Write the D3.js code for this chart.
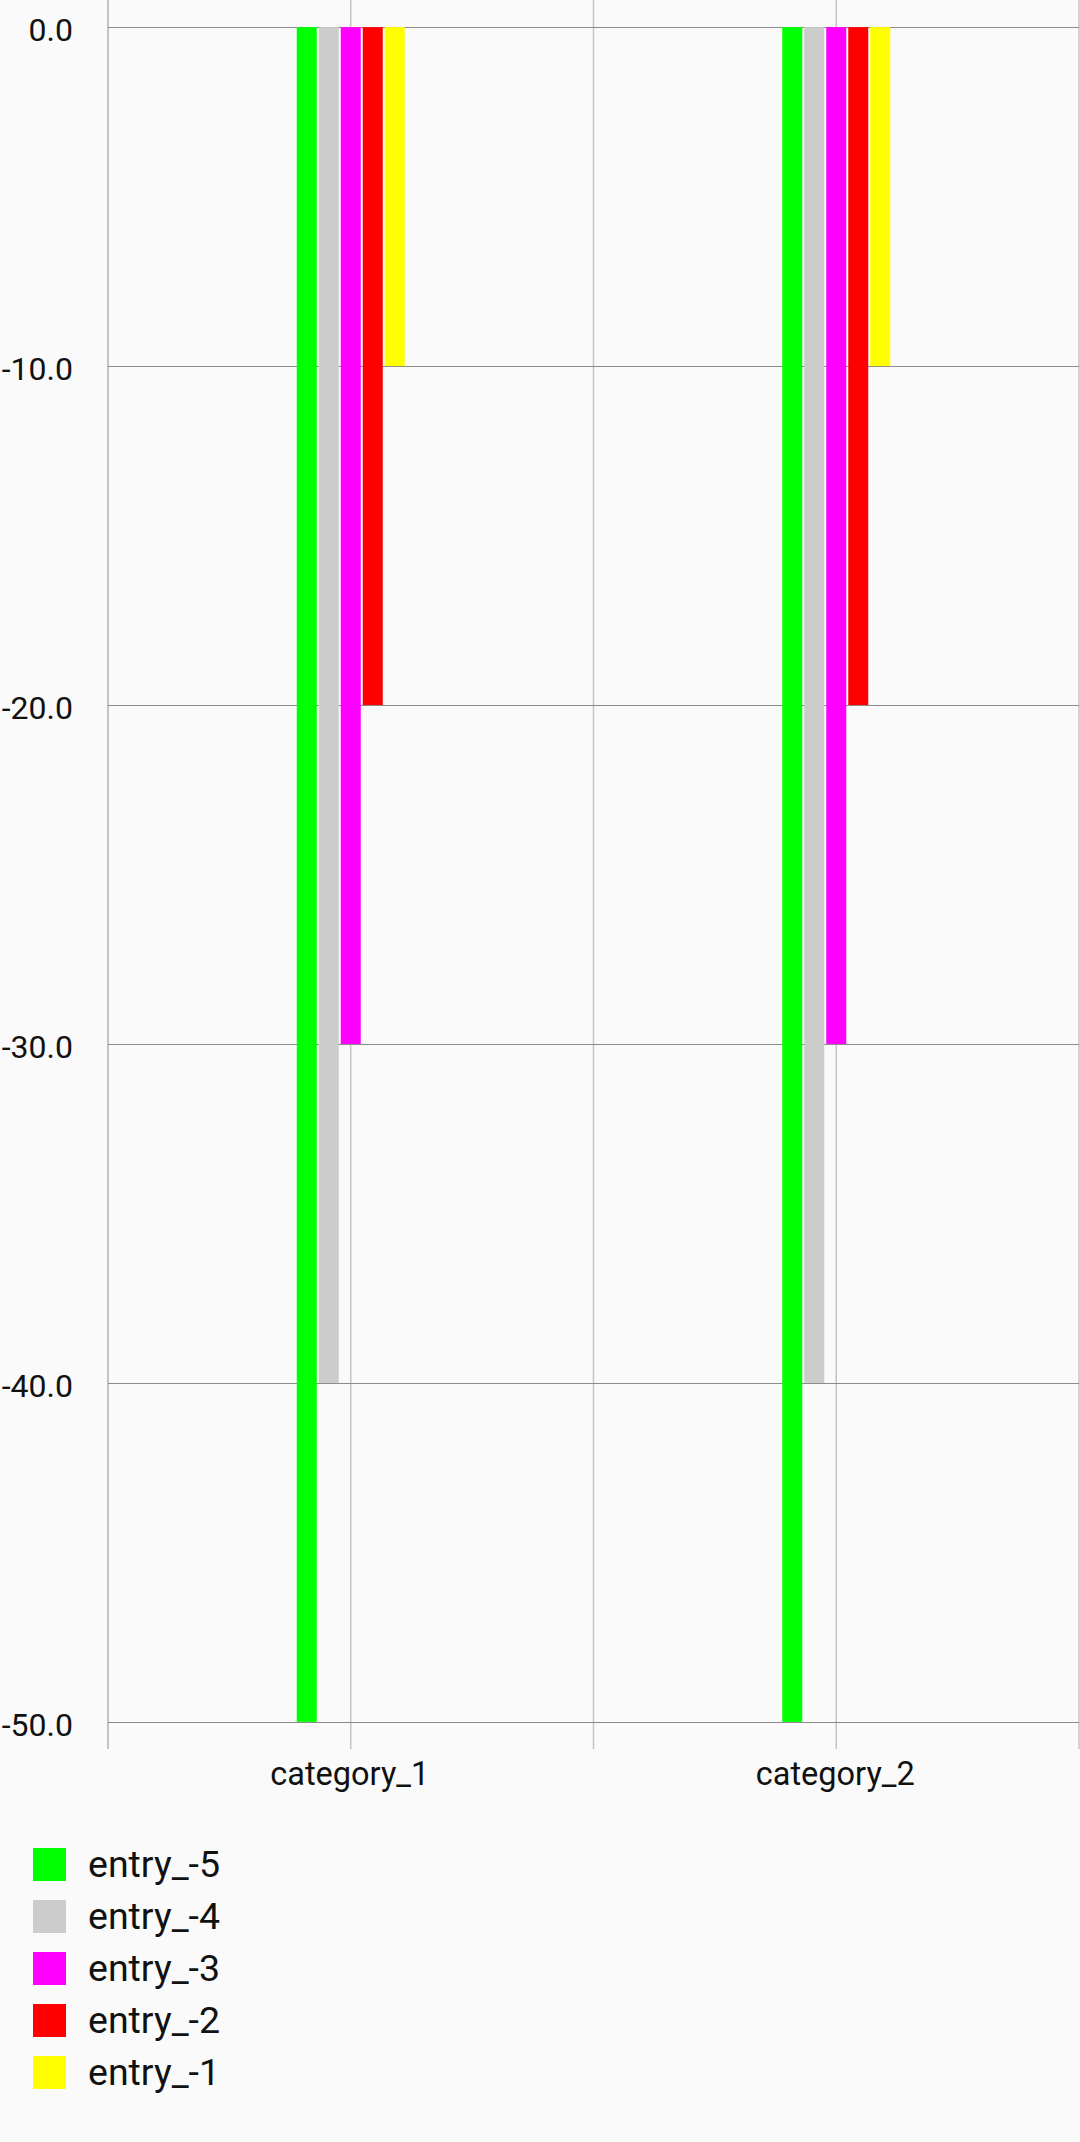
<!DOCTYPE html>
<html>
<head>
<meta charset="utf-8">
<script src="https://cdn.jsdelivr.net/npm/d3@7"></script>
<style>
  html, body { margin: 0; padding: 0; background: #FAFAFA; }
  svg { display: block; }
  text { font-family: Roboto, "Noto Sans", sans-serif; }
</style>
</head>
<body>
<svg id="chart" width="1080" height="2142"></svg>
<script>
const categories = ["category_1", "category_2"];
const seriesNames = ["entry_-5", "entry_-4", "entry_-3", "entry_-2", "entry_-1"];
const seriesColors = ["#00FF00", "#CCCCCC", "#FF00FF", "#FF0000", "#FFFF00"];
const seriesValues = [
  [-50, -50],
  [-40, -40],
  [-30, -30],
  [-20, -20],
  [-10, -10]
];
const yTicks = [0, -10, -20, -30, -40, -50];

const W = 1080, H = 2142;
const plot = { left: 108, right: 1079, top: 0, bottom: 1749 };

const svg = d3.select("#chart");
svg.append("rect").attr("width", W).attr("height", H).attr("fill", "#FAFAFA");

const y = d3.scaleLinear().domain([-50.8, 0.8]).range([plot.bottom, plot.top]);
const x = d3.scaleBand().domain(categories).range([plot.left, plot.right]).padding(0);
const xs = d3.scaleBand().domain(seriesNames).range([-55, 55])
  .paddingInner(2 / 22).paddingOuter(1 / 22);

// vertical grid lines: band boundaries and centers
const vLines = [];
categories.forEach((c, i) => {
  if (i === 0) vLines.push(x(c));
  vLines.push(x(c) + x.bandwidth() / 2);
  vLines.push(x(c) + x.bandwidth());
});
svg.append("g").selectAll("line").data(vLines).join("line")
  .attr("x1", d => d).attr("x2", d => d)
  .attr("y1", plot.top).attr("y2", plot.bottom)
  .attr("stroke", "#C4C4C4")
  .attr("stroke-width", (d, i) => i === 0 ? 2 : 1.5);

// horizontal grid lines
svg.append("g").selectAll("line").data(yTicks).join("line")
  .attr("x1", plot.left).attr("x2", plot.right)
  .attr("y1", d => Math.round(y(d)) + 0.5).attr("y2", d => Math.round(y(d)) + 0.5)
  .attr("stroke", "#8C8C8C").attr("stroke-width", 1);

// bars
const barData = [];
seriesNames.forEach((s, si) => {
  categories.forEach((c, ci) => {
    barData.push({ s, c, v: seriesValues[si][ci], color: seriesColors[si] });
  });
});
svg.append("g").selectAll("rect").data(barData).join("rect")
  .attr("x", d => x(d.c) + x.bandwidth() / 2 + xs(d.s))
  .attr("width", xs.bandwidth())
  .attr("y", d => y(Math.max(0, d.v)))
  .attr("height", d => Math.abs(y(d.v) - y(0)))
  .attr("fill", d => d.color);

// y tick labels
svg.append("g").selectAll("text").data(yTicks).join("text")
  .attr("x", 73).attr("y", d => y(d) + 14)
  .attr("text-anchor", "end")
  .attr("font-size", 32).attr("fill", "#111")
  .text(d => d3.format(".1f")(d).replace("−", "-"));

// x labels
svg.append("g").selectAll("text").data(categories).join("text")
  .attr("x", d => x(d) + x.bandwidth() / 2 - 1)
  .attr("y", 1785)
  .attr("text-anchor", "middle")
  .attr("font-size", 32.5).attr("fill", "#111")
  .text(d => d);

// legend
const lg = svg.append("g").selectAll("g").data(seriesNames).join("g")
  .attr("transform", (d, i) => `translate(0, ${i * 52})`);
lg.append("rect").attr("x", 33).attr("y", 1848).attr("width", 33).attr("height", 33)
  .attr("fill", (d, i) => seriesColors[i]);
lg.append("text").attr("x", 88).attr("y", 1877)
  .attr("font-size", 37.5).attr("fill", "#111")
  .text(d => d);
</script>
</body>
</html>
